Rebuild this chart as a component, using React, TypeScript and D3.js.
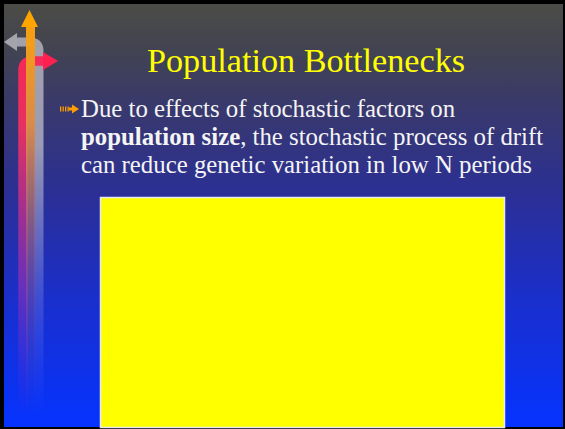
import React, { useEffect, useRef } from "react";
import * as d3 from "d3";

// slide content
const title = "Population Bottlenecks";
const bulletLines = [
  [{ t: "Due to effects of stochastic factors on", b: false }],
  [{ t: "population size", b: true }, { t: ", the stochastic process of drift", b: false }],
  [{ t: "can reduce genetic variation in low N periods", b: false }],
];
const bgStops = [
  { o: 0, c: "#4b4c46" },
  { o: 0.1, c: "#434450" },
  { o: 0.22, c: "#3a3a68" },
  { o: 0.45, c: "#2b2f95" },
  { o: 0.7, c: "#1a2fcc" },
  { o: 1, c: "#0533ff" },
];

const W = 565, H = 429;
const font = "'Liberation Serif', 'Times New Roman', serif";

export default function App() {
  const ref = useRef<SVGSVGElement>(null);

  useEffect(() => {
    const svg = d3.select(ref.current);
    svg.selectAll("*").remove();
    const defs = svg.append("defs");

    const bg = defs.append("linearGradient").attr("id", "bg")
      .attr("x1", 0).attr("y1", 0).attr("x2", 0).attr("y2", 1);
    bg.selectAll("stop").data(bgStops).join("stop")
      .attr("offset", d => d.o).attr("stop-color", d => d.c);

    // fading bars on the left
    const fade = (id: string, stops: [number, string, number][]) => {
      const g = defs.append("linearGradient").attr("id", id)
        .attr("gradientUnits", "userSpaceOnUse")
        .attr("x1", 0).attr("y1", 0).attr("x2", 0).attr("y2", 415);
      g.selectAll("stop").data(stops).join("stop")
        .attr("offset", d => d[0]).attr("stop-color", d => d[1]).attr("stop-opacity", d => d[2]);
    };
    fade("gGrey", [[0, "#a4a4ac", 1], [0.35, "#a0a0b8", 0.95], [0.7, "#8890e0", 0.35], [1, "#6070ff", 0]]);
    fade("gRed", [[0, "#ff2050", 1], [0.3, "#f03060", 0.95], [0.7, "#c030b0", 0.45], [1, "#8030d0", 0]]);
    fade("gOrange", [[0, "#ffa500", 1], [0.3, "#e09048", 0.95], [0.7, "#a06090", 0.4], [1, "#7050c0", 0]]);

    svg.append("rect").attr("width", W).attr("height", H).attr("fill", "#000");
    svg.append("rect").attr("x", 4).attr("y", 4).attr("width", 559).attr("height", 423).attr("fill", "url(#bg)");

    // grey arrow (left)
    svg.append("path")
      .attr("d", "M39,415 L39,51 Q39,42 30,42 L16,42")
      .attr("fill", "none").attr("stroke", "url(#gGrey)").attr("stroke-width", 9);
    svg.append("path").attr("d", "M17,33 L17,51 L4,42 Z").attr("fill", "#a4a4ac");

    // red arrow (right)
    svg.append("path")
      .attr("d", "M23,415 L23,70 Q23,61 32,61 L45,61")
      .attr("fill", "none").attr("stroke", "url(#gRed)").attr("stroke-width", 9.5);
    svg.append("path").attr("d", "M43,52 L43,70 L58,61 Z").attr("fill", "#ff2050");

    // orange arrow (up)
    svg.append("rect").attr("x", 26).attr("y", 26).attr("width", 9).attr("height", 389).attr("fill", "url(#gOrange)");
    svg.append("path").attr("d", "M21,27 L38,27 L29.5,10 Z").attr("fill", "#ffa500");

    // title
    svg.append("text").attr("x", 306).attr("y", 72).attr("text-anchor", "middle")
      .attr("font-family", font).attr("font-size", 34.2).attr("fill", "#ffff00").text(title);

    // bullet glyph
    const bl = svg.append("g").attr("transform", "translate(60,109)").attr("fill", "#ff9c00");
    [0, 2.5, 5, 7.5].forEach(x => bl.append("rect").attr("x", x).attr("y", -2.5).attr("width", 1.3).attr("height", 5));
    bl.append("rect").attr("x", 9).attr("y", -1.5).attr("width", 4).attr("height", 3);
    bl.append("path").attr("d", "M12,-4.5 L19,0 L12,4.5 Z");

    // bullet text
    const tx = svg.append("text").attr("font-family", font).attr("font-size", 24.8).attr("fill", "#f4f4f4");
    bulletLines.forEach((line, i) => {
      line.forEach((seg, j) => {
        const ts = tx.append("tspan").text(seg.t).attr("font-weight", seg.b ? "bold" : "normal");
        if (j === 0) ts.attr("x", 81).attr("y", 117 + i * 28);
      });
    });

    // yellow panel
    svg.append("rect").attr("x", 100.5).attr("y", 197.5).attr("width", 404).attr("height", 230)
      .attr("fill", "#ffff00").attr("stroke", "#e8e8f4").attr("stroke-width", 1.5);
  }, []);

  return (
    <svg ref={ref} width={W} height={H}
      style={{ position: "fixed", left: 0, top: 0, display: "block" }} />
  );
}
